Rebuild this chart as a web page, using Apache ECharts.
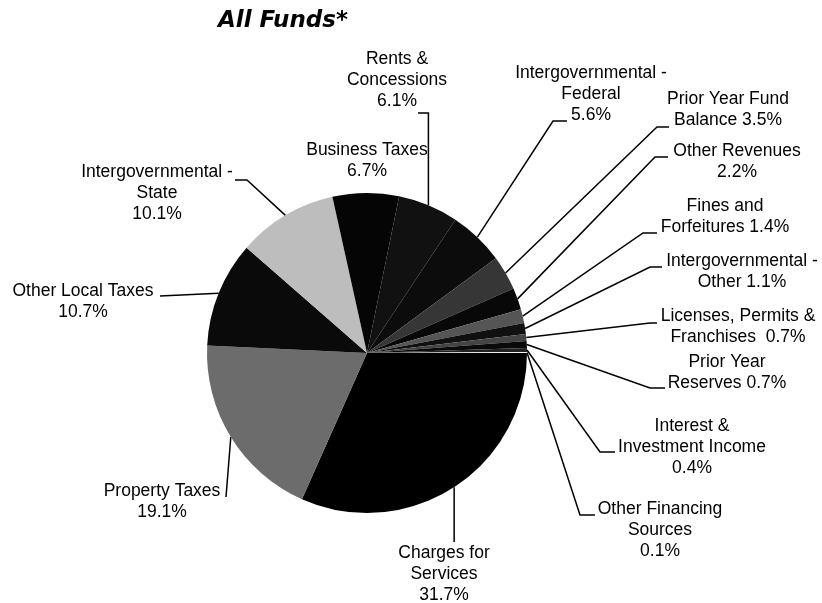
<!DOCTYPE html>
<html>
<head>
<meta charset="utf-8">
<title>All Funds</title>
<script src="https://cdn.jsdelivr.net/npm/echarts@6/dist/echarts.min.js"></script>
<style>
  html, body { margin: 0; padding: 0; background: #fff; }
  #chart { width: 822px; height: 603px; }
</style>
</head>
<body>
<div id="chart"></div>
<script>
// revenue sources, clockwise from 3 o'clock
const categories = [
  'Charges for\nServices',
  'Property Taxes',
  'Other Local Taxes',
  'Intergovernmental -\nState',
  'Business Taxes',
  'Rents &\nConcessions',
  'Intergovernmental -\nFederal',
  'Prior Year Fund\nBalance',
  'Other Revenues',
  'Fines and\nForfeitures',
  'Intergovernmental -\nOther',
  'Licenses, Permits &\nFranchises ',
  'Prior Year\nReserves',
  'Interest &\nInvestment Income',
  'Other Financing\nSources'
]
const shares = [31.7, 19.1, 10.7, 10.1, 6.7, 6.1, 5.6, 3.5, 2.2, 1.4, 1.1, 0.7, 0.7, 0.4, 0.1]
// whether the percent goes on its own line or after the last word
const pctOnNewLine = [true, true, true, true, true, true, true, false, true, false, false, false, false, true, true]

const sliceColors = ['#000', '#6c6c6c', '#0a0a0a', '#bdbdbd', '#050505', '#111', '#0c0c0c',
  '#363636', '#080808', '#555', '#101010', '#444', '#0a0a0a', '#222', '#f4f4f4']

// label block centres and leader bends (x, y)
const labelPos = [
  [444, 574], [162, 502], [83, 302], [157, 193], [367, 161], [397, 80], [591, 94],
  [728, 110], [737, 162], [725, 217], [742, 272], [738, 327], [727, 373], [692, 447], [660, 530]
]
const leaderBends = [
  [[453, 542]],
  [[226, 497]],
  [[160, 296]],
  [[247, 180], [235, 180]],
  null,
  [[429, 113], [418, 113]],
  [[553, 121], [567, 121]],
  [[657, 127], [669, 127]],
  [[655, 157], [668, 157]],
  [[643, 233], [657, 233]],
  [[650, 267], [662, 267]],
  [[650, 323], [657, 323]],
  [[650, 388], [665, 388]],
  [[600, 452], [615, 452]],
  [[580, 515], [595, 515]]
]

const chart = echarts.init(document.getElementById('chart'))

const option = {
  backgroundColor: '#fff',
  animation: false,
  title: {
    text: 'All Funds*',
    left: 278,
    top: 5,
    textAlign: 'center',
    textStyle: {
      fontFamily: 'DejaVu Sans',
      fontStyle: 'italic',
      fontWeight: 'bold',
      fontSize: 23,
      color: '#000'
    }
  },
  series: [{
    type: 'pie',
    center: [367, 353],
    radius: 160,
    startAngle: 0,
    clockwise: true,
    avoidLabelOverlap: false,
    data: categories.map((name, i) => ({
      name: name,
      value: shares[i],
      itemStyle: { color: sliceColors[i] }
    })),
    itemStyle: { borderWidth: 0 },
    label: {
      show: true,
      fontFamily: 'Liberation Sans',
      fontSize: 17.5,
      lineHeight: 21,
      color: '#000',
      formatter: p => p.name + (pctOnNewLine[p.dataIndex] ? '\n' : ' ') + shares[p.dataIndex].toFixed(1) + '%'
    },
    labelLine: {
      show: true,
      length: 10,
      length2: 10,
      lineStyle: { color: '#000', width: 1.5 }
    },
    labelLayout: function (params) {
      const i = params.dataIndex
      const pts = params.labelLinePoints
      const out = {
        x: labelPos[i][0],
        y: labelPos[i][1],
        align: 'center',
        verticalAlign: 'middle'
      }
      if (pts && pts.length) {
        const p0 = pts[0]
        if (leaderBends[i]) {
          const bends = leaderBends[i].slice()
          // charges and rents lines run straight from the rim
          if (i === 5 || i === 0) bends[0] = [p0[0], bends[0][1]]
          out.labelLinePoints = [p0].concat(bends)
        } else {
          out.labelLinePoints = [p0, p0]
        }
      }
      return out
    }
  }]
}

chart.setOption(option)
</script>
</body>
</html>
